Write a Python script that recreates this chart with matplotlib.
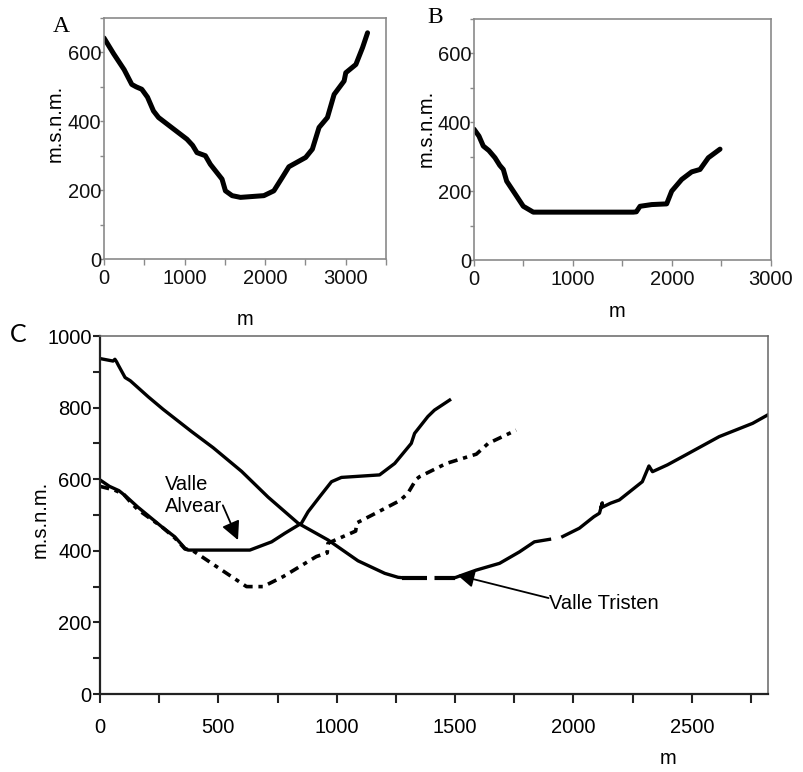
import numpy as np
import matplotlib
matplotlib.use("Agg")
import matplotlib.pyplot as plt

nan = np.nan

# ---------------- data ----------------
# Panel A profile
a_x = [0, 120, 250, 345, 400, 469, 540, 614, 677, 850, 1029, 1100, 1154, 1258, 1320,
       1465, 1507, 1590, 1694, 1984, 2108, 2213, 2295, 2503, 2586, 2669, 2773, 2856,
       2980, 3001, 3126, 3209, 3271]
a_y = [642, 596, 550, 507, 500, 493, 470, 430, 411, 380, 348, 330, 309, 300, 275,
       232, 198, 184, 179, 184, 198, 237, 268, 295, 319, 382, 411, 478,
       517, 541, 565, 614, 657]

# Panel B profile
b_x = [0, 50, 94, 150, 212, 260, 296, 330, 420, 498, 599, 1609, 1640, 1677, 1795,
       1946, 1997, 2098, 2199, 2283, 2367, 2485]
b_y = [380, 360, 331, 318, 297, 275, 263, 229, 190, 156, 139, 139, 140, 156, 161,
       163, 200, 234, 256, 263, 297, 322]

# Panel C: Valle Tristen (descending, flat dashed floor, ascending)
trd_x = [0, 55, 63, 70, 77, 106, 128, 204, 267, 387, 478, 598, 710, 837, 964,
         1090, 1203, 1259, 1275]
trd_y = [937, 930, 935, 928, 919, 884, 875, 830, 795, 733, 688, 622, 550, 477, 430,
         372, 337, 326, 325]
trf_x = [1275, 1500]
trf_y = [325, 325]
tru_x = [1500, 1589, 1688, 1772, 1835, 1899, nan, 1955, 2025, 2086, 2110, 2122,
         2116, 2157, 2194, 2291, 2319, 2334, 2397, 2475, 2616, 2757, 2822]
tru_y = [325, 346, 365, 397, 425, 432, nan, 440, 463, 495, 505, 534,
         520, 533, 542, 593, 637, 621, 640, 668, 719, 756, 780]

# Panel C: Valle Alvear (solid)
als_x = [0, 40, 80, 110, 160, 261, 316, 359, 373, 633, 725, 781, 851, 879, 928,
         978, 1020, 1181, 1245, 1315, 1329, 1385, 1413, 1477]
als_y = [598, 580, 568, 552, 522, 467, 439, 407, 402, 402, 425, 449, 477, 509, 551,
         593, 605, 612, 644, 700, 728, 775, 793, 821]

# Panel C: second profile (dash-dot)
ald_x = [0, 60, 100, 130, 160, 261, 316, 359, 393, 535, 619, 689, 774, 914, 960,
         963, 1000, 1080, 1085, 1150, 1266, 1300, 1336, 1350, 1463, 1590, 1640, 1758]
ald_y = [580, 570, 558, 535, 515, 467, 436, 405, 400, 337, 300, 300, 328, 384, 394,
         421, 432, 455, 478, 500, 540, 560, 600, 607, 644, 670, 700, 737]

# ---------------- figure ----------------
W, H = 804, 772
fig = plt.figure(figsize=(W / 100, H / 100), dpi=100)
plt.rcParams['font.family'] = ['Liberation Sans', 'DejaVu Sans']

def px_axes(l, t, r, b):
    return fig.add_axes([l / W, 1 - b / H, (r - l) / W, (b - t) / H])

FS = 14.5
GRAY = '#8a8a8a'

def small_panel(ax, x, y, xmax, lab, lab_xy, ylab_xy, xlab_xy):
    ax.plot(x, y, color='black', lw=3.6, solid_capstyle='round', solid_joinstyle='round')
    ax.set_xlim(0, xmax)
    ax.set_ylim(0, 700)
    ax.set_xticks(np.arange(0, xmax + 1, 500))
    ax.set_xticklabels([str(v) if v % 1000 == 0 else '' for v in range(0, xmax + 1, 500)])
    ax.set_yticks(np.arange(0, 701, 100))
    ax.set_yticklabels([str(v) if v % 200 == 0 else '' for v in range(0, 701, 100)])
    for s in ax.spines.values():
        s.set_color(GRAY)
        s.set_linewidth(1.2)
    ax.tick_params(axis='x', length=4, width=1, color=GRAY, labelsize=FS, pad=3.5,
                   labelcolor='#111111')
    ax.tick_params(axis='y', length=3, width=1, color=GRAY, labelsize=FS, pad=-1,
                   labelcolor='#111111')
    ax.set_ylabel('m.s.n.m.', fontsize=FS, va='center')
    ax.yaxis.set_label_coords(*ylab_xy)
    ax.set_xlabel('m', fontsize=FS, va='baseline')
    ax.xaxis.set_label_coords(*xlab_xy)
    fig.text(lab_xy[0] / W, 1 - lab_xy[1] / H, lab, fontsize=17,
             family=['Liberation Serif', 'DejaVu Serif'], ha='left', va='baseline')

axA = px_axes(104, 18, 386, 259)
small_panel(axA, a_x, a_y, 3500, 'A', (53, 32), (-0.174, 0.564), (0.5, -0.274))

axB = px_axes(474, 19, 771, 260)
small_panel(axB, b_x, b_y, 3000, 'B', (427, 23), (-0.16, 0.548), (0.481, -0.237))

# Panel C
axC = px_axes(100, 336, 768, 694)
axC.plot(trd_x, trd_y, color='black', lw=2.4, solid_joinstyle='round')
axC.plot(trf_x, trf_y, color='black', lw=3.0, linestyle=(0, (6, 1.8)))
axC.plot(tru_x, tru_y, color='black', lw=2.4, solid_joinstyle='round')
axC.plot(als_x, als_y, color='black', lw=2.4, solid_joinstyle='round')
axC.plot(ald_x, ald_y, color='black', lw=2.6, linestyle=(0, (2.6, 1.6, 1.2, 1.6)))

axC.set_xlim(0, 2822)
axC.set_ylim(0, 1000)
axC.set_xticks(np.arange(0, 2801, 250))
axC.set_xticklabels([str(v) if v % 500 == 0 else '' for v in range(0, 2801, 250)])
axC.set_yticks(np.arange(0, 1001, 100))
axC.set_yticklabels([str(v) if v % 200 == 0 else '' for v in range(0, 1001, 100)])
axC.spines['left'].set_linewidth(1.6)
axC.spines['bottom'].set_linewidth(1.6)
axC.spines['left'].set_color('#222222')
axC.spines['bottom'].set_color('#222222')
axC.spines['top'].set_color('#666666')
axC.spines['right'].set_color('#666666')
axC.spines['top'].set_linewidth(1.1)
axC.spines['right'].set_linewidth(1.1)
axC.tick_params(axis='x', length=6.5, width=1.5, color='#222222', labelsize=FS, pad=11)
axC.tick_params(axis='y', length=5, width=1.5, color='#222222', labelsize=FS, pad=1)
axC.set_ylabel('m.s.n.m.', fontsize=FS, va='center')
axC.yaxis.set_label_coords(-0.09, 0.489)
axC.set_xlabel('m', fontsize=FS, va='baseline')
axC.xaxis.set_label_coords(0.85, -0.195)
fig.text(10 / W, 1 - 342 / H, 'C', fontsize=18, ha='left', va='baseline',
         family=['Lato', 'DejaVu Sans'])

axC.text(275, 555, 'Valle\nAlvear', fontsize=FS, ha='left', va='center', linespacing=1.2)
axC.annotate('', xy=(583, 430), xytext=(519, 527),
             arrowprops=dict(arrowstyle='-|>', color='black', lw=1.3,
                             mutation_scale=28, shrinkA=0, shrinkB=0))
axC.text(1895, 254, 'Valle Tristen', fontsize=FS, ha='left', va='center')
axC.annotate('', xy=(1510, 332), xytext=(1895, 268),
             arrowprops=dict(arrowstyle='-|>', color='black', lw=1.3,
                             mutation_scale=25, shrinkA=0, shrinkB=0))

fig.savefig('out.png', dpi=100)
